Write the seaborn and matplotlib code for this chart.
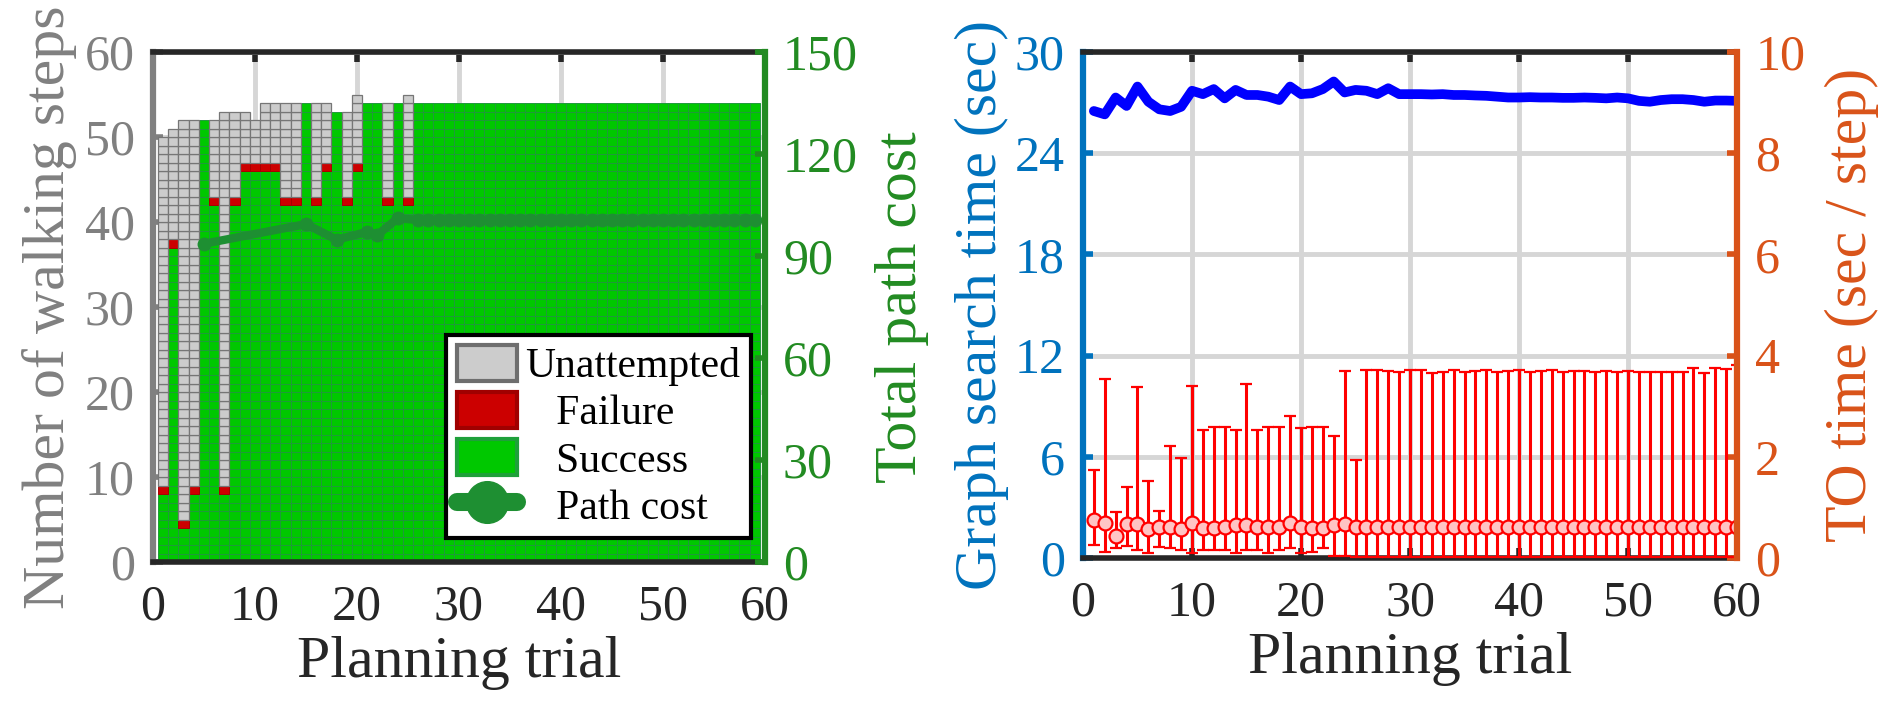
"""
Walking-step planning trials: step outcomes / path cost (left) and
graph search time vs TO time per step (right).
"""

import numpy as np
import matplotlib
matplotlib.use("Agg")
import matplotlib.pyplot as plt
from matplotlib.patches import Patch
from matplotlib.lines import Line2D
import seaborn as sns

# ---- data ----
# left panel: trials 1..59
trials_l = np.arange(1, 60)
total_steps = [50, 51, 52, 52, 52, 52, 53, 53, 53, 52, 54, 54, 54, 54, 54,
               54, 54, 53, 53, 55, 54, 54, 54, 54, 55] + [54] * 34
# step index that failed (0 = trial succeeded)
fail_step = [9, 38, 5, 9, 0, 43, 9, 43, 47, 47, 47, 47, 43, 43, 0,
             43, 47, 0, 43, 47, 0, 0, 43, 0, 43] + [0] * 34

cost_trials = [5, 15, 18, 21, 22, 24] + list(range(26, 60))
path_cost = [93.6, 99.4, 94.8, 97.1, 96.2, 101.1] + [100.6] * 34

# right panel: trials 1..60
trials_r = np.arange(1, 61)
search_time = [26.5, 26.3, 27.3, 26.8, 27.95, 27.05, 26.6, 26.5, 26.75, 27.7,
               27.5, 27.8, 27.25, 27.75, 27.45, 27.45, 27.35, 27.15, 27.95, 27.5,
               27.55, 27.8, 28.25, 27.6, 27.75, 27.7, 27.5, 27.85, 27.5, 27.5,
               27.5, 27.48, 27.5, 27.45, 27.45, 27.42, 27.4, 27.35, 27.3, 27.3,
               27.32, 27.3, 27.3, 27.28, 27.28, 27.3, 27.28, 27.25, 27.3, 27.25,
               27.1, 27.05, 27.15, 27.2, 27.2, 27.15, 27.05, 27.12, 27.12, 27.1]
to_mean = [0.75, 0.70, 0.44, 0.67, 0.68, 0.57, 0.61, 0.61, 0.57, 0.70,
           0.59, 0.59, 0.61, 0.65, 0.65, 0.61, 0.61, 0.61, 0.70, 0.62,
           0.59, 0.59, 0.66, 0.67, 0.61] + [0.62] * 35
to_high = [1.74, 3.53, 0.90, 1.40, 3.37, 1.53, 0.93, 2.21, 1.97, 3.40,
           2.53, 2.59, 2.58, 2.53, 3.44, 2.53, 2.58, 2.58, 2.81, 2.56,
           2.58, 2.59, 2.42, 3.69, 1.94,
           3.71, 3.71, 3.70, 3.68, 3.71, 3.71, 3.66, 3.68, 3.71, 3.68,
           3.70, 3.71, 3.68, 3.70, 3.71, 3.68, 3.70, 3.71, 3.68, 3.70,
           3.69, 3.68, 3.70, 3.68, 3.69, 3.67, 3.68, 3.67, 3.68, 3.68,
           3.75, 3.66, 3.75, 3.73, 3.81]
to_low = [0.26, 0.12, 0.19, 0.24, 0.16, 0.09, 0.22, 0.19, 0.16, 0.09,
          0.16, 0.16, 0.16, 0.09, 0.16, 0.16, 0.09, 0.16, 0.20, 0.09,
          0.12, 0.19, 0.03, 0.03] + [0.02] * 36

# ---- colours ----
GREY_AX = "#808080"
GREEN_AX = "#228B22"
BLUE_AX = "#0072BD"
ORANGE_AX = "#D95319"
CELL_GREY, EDGE_GREY = "#cccccc", "#767676"
CELL_RED, EDGE_RED = "#cc0000", "#a80000"
CELL_GREEN, EDGE_GREEN = "#00c800", "#1f9a3a"
COST_GREEN = "#1e8f32"
GRID = "#d6d6d6"

sns.set_style("white")
plt.rcParams["font.family"] = "serif"
plt.rcParams["font.serif"] = ["Liberation Serif", "DejaVu Serif"]

TICK_FS = 36
LABEL_FS = 43


def cell_positions():
    """Expand trials into one cell per step, grouped by outcome."""
    cells = {"ok": ([], []), "fail": ([], []), "skip": ([], [])}
    for t, n, f in zip(trials_l, total_steps, fail_step):
        for r in range(n):
            if f == 0 or r < f - 1:
                key = "ok"
            elif r == f - 1:
                key = "fail"
            else:
                key = "skip"
            cells[key][0].append(t)
            cells[key][1].append(r)
    return cells


def style_x(ax):
    ax.set_xlim(0, 60)
    ax.set_xticks(range(0, 61, 10))
    ax.tick_params(axis="x", which="both", direction="in", top=True, bottom=True,
                   length=7, width=4, color="#262626", labelsize=TICK_FS,
                   labelcolor="#262626", pad=16)
    for s in ("top", "bottom"):
        ax.spines[s].set_color("#262626")
        ax.spines[s].set_linewidth(4)
    ax.set_xlabel("Planning trial", fontsize=LABEL_FS, color="#262626", labelpad=4)


def style_y(ax, side, color):
    ax.tick_params(axis="y", direction="in", length=7, width=4, color=color,
                   labelsize=TICK_FS, labelcolor=color, pad=13)
    ax.spines[side].set_visible(True)
    ax.spines[side].set_color(color)
    ax.spines[side].set_linewidth(4.5)


fig = plt.figure(figsize=(18.91, 7.09), dpi=100)

# ---------------- left panel ----------------
ax1 = fig.add_axes([0.0809, 0.2073, 0.3236, 0.7193])
ax1.set_axisbelow(True)
ax1.grid(True, color=GRID, lw=3.5)

cells = cell_positions()
ax1.bar(cells["ok"][0], 1, bottom=cells["ok"][1], width=1.0, align="center",
        color=CELL_GREEN, edgecolor=EDGE_GREEN, linewidth=0.7)
ax1.bar(cells["fail"][0], 1, bottom=cells["fail"][1], width=1.0, align="center",
        color=CELL_RED, edgecolor=EDGE_RED, linewidth=0.7)
ax1.bar(cells["skip"][0], 1, bottom=cells["skip"][1], width=1.0, align="center",
        color=CELL_GREY, edgecolor=EDGE_GREY, linewidth=0.9)

ax1.set_ylim(0, 60)
ax1.set_yticks(range(0, 61, 10))
style_x(ax1)
style_y(ax1, "left", GREY_AX)
ax1.spines["right"].set_visible(False)
ax1.set_ylabel("Number of walking steps", fontsize=LABEL_FS, color=GREY_AX, labelpad=6)

ax2 = ax1.twinx()
sns.lineplot(x=cost_trials, y=path_cost, ax=ax2, color=COST_GREEN, lw=6,
             marker="o", markersize=10, markeredgewidth=0)
ax2.set_ylim(0, 150)
ax2.set_yticks(range(0, 151, 30))
for s in ("left", "top", "bottom"):
    ax2.spines[s].set_visible(False)
style_y(ax2, "right", GREEN_AX)
ax2.set_ylabel("Total path cost", fontsize=LABEL_FS, color=GREEN_AX, labelpad=12)

handles = [
    Patch(facecolor=CELL_GREY, edgecolor="#6e6e6e", linewidth=3),
    Patch(facecolor=CELL_RED, edgecolor="#a00000", linewidth=3),
    Patch(facecolor=CELL_GREEN, edgecolor="#1fa03a", linewidth=3),
    Line2D([], [], color=COST_GREEN, lw=13, marker="o", markersize=30),
]
labels = ["Unattempted", "   Failure", "   Success", "   Path cost"]
leg = ax2.legend(handles, labels, loc="lower left", bbox_to_anchor=(0.479, 0.047),
                 borderaxespad=0, fontsize=30, frameon=True, fancybox=False,
                 framealpha=1, facecolor="white",
                 handlelength=1.45, handleheight=0.95, labelspacing=0.14,
                 handletextpad=0.2, borderpad=0.25)
leg.get_frame().set_edgecolor("black")
leg.get_frame().set_linewidth(3)
for txt in leg.get_texts():
    txt.set_color("black")

# ---------------- right panel ----------------
ax3 = fig.add_axes([0.5727, 0.213, 0.3459, 0.7137])
ax3.set_axisbelow(True)
ax3.grid(True, color=GRID, lw=3.5)
sns.lineplot(x=trials_r, y=search_time, ax=ax3, color="#0000ff", lw=7)
ax3.set_ylim(0, 30)
ax3.set_yticks(range(0, 31, 6))
style_x(ax3)
style_y(ax3, "left", BLUE_AX)
ax3.spines["right"].set_visible(False)
ax3.set_ylabel("Graph search time (sec)", fontsize=LABEL_FS, color=BLUE_AX, labelpad=4)

ax4 = ax3.twinx()
to_mean_a = np.array(to_mean)
yerr = [to_mean_a - np.array(to_low), np.array(to_high) - to_mean_a]
ax4.errorbar(trials_r, to_mean_a, yerr=yerr, fmt="o", color="#ff0000",
             ecolor="#ff0000", elinewidth=2.2, capsize=4, capthick=2.2,
             markersize=10, markerfacecolor="#ffc4c4", markeredgecolor="#ff0000",
             markeredgewidth=1.6)
ax4.set_ylim(0, 10)
ax4.set_yticks(range(0, 11, 2))
for s in ("left", "top", "bottom"):
    ax4.spines[s].set_visible(False)
style_y(ax4, "right", ORANGE_AX)
ax4.set_ylabel("TO time (sec / step)", fontsize=LABEL_FS, color=ORANGE_AX, labelpad=14)

fig.savefig("out.png", dpi=100)
